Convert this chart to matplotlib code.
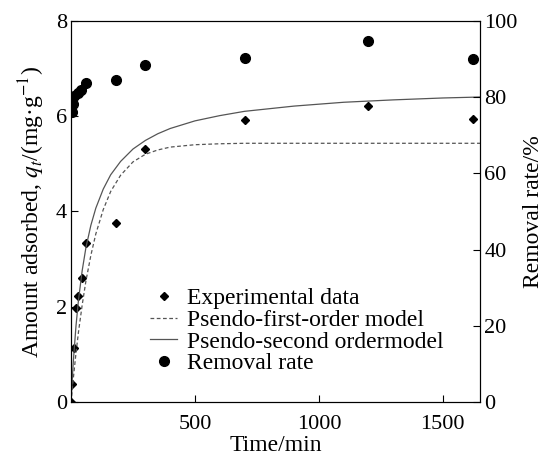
import matplotlib
matplotlib.use("Agg")
import matplotlib.pyplot as plt

plt.rcParams['font.family'] = ['Liberation Serif', 'DejaVu Serif']
plt.rcParams['mathtext.fontset'] = 'stix'

# experimental adsorption data
t_exp = [0, 5, 10, 20, 30, 45, 60, 180, 300, 700, 1200, 1620]
q_exp = [0.0, 0.38, 1.14, 1.97, 2.23, 2.60, 3.35, 3.75, 5.30, 5.92, 6.22, 5.94]

# removal rate (%)
t_rem = [5, 7, 13, 27, 40, 62, 180, 300, 700, 1200, 1620]
rem = [76.0, 78.1, 80.3, 81.0, 81.8, 83.6, 84.5, 88.5, 90.2, 94.7, 90.0]

# fitted model curves
t_fit = [0, 5, 10, 20, 30, 45, 60, 80, 100, 130, 160, 200, 250, 300, 350, 400,
         500, 600, 700, 900, 1100, 1300, 1500, 1650]
q_pfo = [0.0, 0.27, 0.54, 1.03, 1.47, 2.04, 2.54, 3.08, 3.53, 4.04, 4.42, 4.76,
         5.04, 5.20, 5.29, 5.35, 5.40, 5.42, 5.43, 5.43, 5.43, 5.43, 5.43, 5.43]
q_pso = [0.0, 0.49, 0.91, 1.60, 2.14, 2.76, 3.24, 3.71, 4.07, 4.47, 4.77, 5.05,
         5.31, 5.49, 5.63, 5.74, 5.90, 6.01, 6.10, 6.21, 6.29, 6.34, 6.38, 6.40]

fig = plt.figure(figsize=(5.43, 4.57), dpi=100)
ax = fig.add_axes([0.1308, 0.1197, 0.7532, 0.835])
ax2 = ax.twinx()

l_exp, = ax.plot(t_exp, q_exp, 'D', color='black', ms=4.5, ls='none',
                 label='Experimental data')
l_pfo, = ax.plot(t_fit, q_pfo, color='#555555', lw=0.9, ls=(0, (3, 2)),
                 label='Psendo-first-order model')
l_pso, = ax.plot(t_fit, q_pso, color='#555555', lw=0.9,
                 label='Psendo-second ordermodel')
l_rem, = ax2.plot(t_rem, rem, 'o', color='black', ms=7, ls='none',
                  label='Removal rate')

ax.set_xlim(0, 1650)
ax.set_ylim(0, 8)
ax2.set_ylim(0, 100)
ax.set_xticks([500, 1000, 1500])
ax.set_yticks([0, 2, 4, 6, 8])
ax2.set_yticks([0, 20, 40, 60, 80, 100])

for a in (ax, ax2):
    a.tick_params(direction='in', labelsize=16, length=5, width=0.8, pad=3)
    for s in a.spines.values():
        s.set_linewidth(0.8)
ax.tick_params(axis='x', pad=9)

ax.set_xlabel('Time/min', fontsize=17, labelpad=1)
ax.set_ylabel('Amount adsorbed, $q_t$/(mg·g$^{-1}$)', fontsize=17, labelpad=6)
ax2.set_ylabel('Removal rate/%', fontsize=17, labelpad=4)

ax2.legend(handles=[l_exp, l_pfo, l_pso, l_rem], loc='lower left',
           bbox_to_anchor=(0.193, 0.074), frameon=False, fontsize=17,
           labelspacing=0.0, handlelength=1.15, handletextpad=0.42,
           borderaxespad=0, borderpad=0)

fig.savefig('out.png', dpi=100)
